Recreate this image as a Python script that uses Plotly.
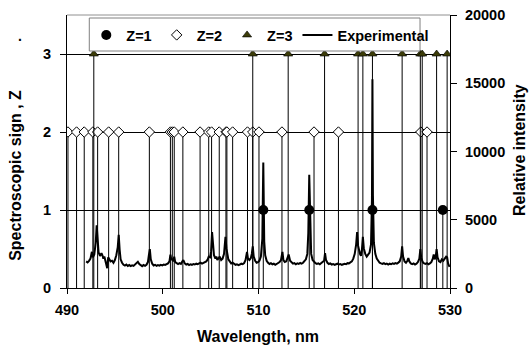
import plotly.graph_objects as go

# ---- data ----
z1_wl = [510.5, 515.3, 521.9, 529.25]
z2_wl = [490.1, 491.0, 491.8, 492.7, 493.2, 494.35, 495.4, 498.6, 500.8, 501.0,
         501.2, 502.1, 503.9, 504.8, 505.1, 505.9, 506.6, 506.7, 507.3, 508.85,
         509.4, 510.05, 512.45, 515.8, 518.35, 526.95, 527.6]
z3_wl = [492.8, 509.4, 513.1, 516.9, 520.4, 520.9, 521.9, 525.0, 526.9, 527.1,
         528.6, 529.7]

exp_wl = [492.0, 492.15, 492.3, 492.45, 492.6, 492.7, 492.85, 493.0, 493.1, 493.2,
          493.3, 493.45, 493.6, 493.7, 493.8, 493.9, 494.05, 494.2, 494.3, 494.4,
          494.55, 494.7, 494.85, 495.0, 495.15, 495.3, 495.4, 495.5, 495.6, 495.75,
          495.9, 496.05, 496.2, 496.35, 496.5, 496.65, 496.8, 496.95, 497.1, 497.25,
          497.4, 497.55, 497.7, 497.85, 498.0, 498.15, 498.3, 498.45, 498.55, 498.65,
          498.75, 498.9, 499.05, 499.2, 499.35, 499.5, 499.65, 499.8, 499.95, 500.1,
          500.25, 500.4, 500.55, 500.7, 500.8, 500.9, 501.0, 501.1, 501.2, 501.3,
          501.45, 501.6, 501.75, 501.9, 502.05, 502.15, 502.3, 502.45, 502.6, 502.75,
          502.9, 503.05, 503.2, 503.35, 503.5, 503.65, 503.8, 503.95, 504.1, 504.25,
          504.4, 504.55, 504.7, 504.8, 504.95, 505.05, 505.15, 505.25, 505.35, 505.5,
          505.6, 505.7, 505.85, 505.95, 506.1, 506.25, 506.4, 506.55, 506.65, 506.75,
          506.85, 507.0, 507.15, 507.3, 507.45, 507.6, 507.75, 507.9, 508.05, 508.2,
          508.35, 508.5, 508.65, 508.8, 508.9, 509.05, 509.2, 509.3, 509.4, 509.5,
          509.65, 509.8, 509.95, 510.1, 510.25, 510.4, 510.5, 510.6, 510.7, 510.85,
          511.0, 511.15, 511.3, 511.45, 511.6, 511.75, 511.9, 512.05, 512.2, 512.35,
          512.5, 512.6, 512.75, 512.9, 513.05, 513.15, 513.3, 513.45, 513.6, 513.75,
          513.9, 514.05, 514.2, 514.35, 514.5, 514.65, 514.8, 514.95, 515.1, 515.2,
          515.3, 515.4, 515.5, 515.65, 515.8, 515.95, 516.1, 516.25, 516.4, 516.55,
          516.7, 516.85, 516.95, 517.05, 517.2, 517.35, 517.5, 517.65, 517.8, 517.95,
          518.1, 518.25, 518.4, 518.55, 518.7, 518.85, 519.0, 519.15, 519.3, 519.45,
          519.6, 519.75, 519.9, 520.05, 520.2, 520.3, 520.4, 520.5, 520.6, 520.7,
          520.8, 520.9, 521.0, 521.15, 521.3, 521.45, 521.6, 521.75, 521.85, 521.9,
          521.95, 522.05, 522.2, 522.35, 522.5, 522.65, 522.8, 522.95, 523.1, 523.25,
          523.4, 523.55, 523.7, 523.85, 524.0, 524.15, 524.3, 524.45, 524.6, 524.75,
          524.9, 525.0, 525.1, 525.25, 525.4, 525.55, 525.65, 525.75, 525.9, 526.05,
          526.2, 526.35, 526.5, 526.65, 526.8, 526.9, 527.0, 527.15, 527.3, 527.45,
          527.6, 527.75, 527.9, 528.05, 528.2, 528.3, 528.4, 528.5, 528.6, 528.7,
          528.85, 529.0, 529.15, 529.3, 529.45, 529.6, 529.7, 529.8, 529.95]
exp_int = [1950, 1880, 1990, 2150, 2650, 2250, 2450, 3300, 4600, 3300,
           2600, 2350, 2550, 2400, 2150, 2300, 1900, 1450, 2250, 2100,
           1950, 2000, 1850, 2050, 2400, 3000, 3900, 2800, 2100, 1850,
           1700, 1650, 1720, 1620, 1680, 1600, 1660, 1620, 1700, 1780,
           1920, 1750, 1640, 1600, 1680, 1620, 1700, 1900, 2400, 2850,
           2100, 1780, 1650, 1700, 1620, 1680, 1640, 1700, 1660, 1720,
           1690, 1750, 1800, 1950, 2450, 2050, 2150, 1950, 2300, 1900,
           1800, 1750, 1820, 1760, 1950, 2050, 1800, 1720, 1760, 1680,
           1740, 1700, 1760, 1720, 1780, 1750, 1800, 1850, 1780, 1820,
           1900, 1950, 2100, 2300, 2250, 2700, 4100, 2900, 2400, 2150,
           2300, 2050, 2200, 2300, 2050, 2150, 2500, 3750, 2900, 2400,
           2100, 1950, 1800, 1850, 1760, 1700, 1740, 1680, 1720, 1780,
           1750, 1820, 2050, 2650, 2150, 2050, 2200, 2500, 3050, 2300,
           2000, 1850, 1900, 2000, 2300, 3600, 9200, 3400, 2400, 2000,
           1850, 1760, 1820, 1740, 1780, 1700, 1760, 1820, 1900, 2050,
           2650, 2050, 1900, 1950, 2300, 2450, 2000, 1850, 1780, 1820,
           1740, 1800, 1760, 1830, 1780, 1850, 1950, 2100, 2500, 4000,
           8300, 3800, 2500, 2050, 1900, 1820, 1760, 1800, 1740, 1820,
           1860, 2000, 2550, 2050, 1850, 1760, 1800, 1720, 1760, 1700,
           1740, 1780, 1720, 1760, 1700, 1740, 1780, 1750, 1820, 1800,
           1880, 1950, 2150, 2500, 3200, 4100, 3100, 2600, 2500, 2350,
           2800, 3750, 2900, 2500, 2300, 2450, 2600, 3200, 6500, 15300,
           6800, 3300, 2500, 2150, 1950, 1850, 1800, 1760, 1820, 1750,
           1790, 1720, 1780, 1740, 1800, 1760, 1820, 1780, 1860, 1950,
           2300, 3050, 2300, 1950, 1850, 2000, 2200, 1950, 1800, 1750,
           1800, 1720, 1780, 1900, 2150, 2850, 2200, 1900, 1800, 1760,
           1820, 1740, 1800, 1900, 2150, 2450, 2100, 2250, 2850, 2250,
           1950, 1900, 2100, 2000, 2150, 2300, 2250, 1800, 1550]

x_ticks = [490, 500, 510, 520, 530]
z_ticks = [0, 1, 2, 3]
int_ticks = [0, 5000, 10000, 15000, 20000]

FONT = "Liberation Sans, Arial, sans-serif"
W, H = 529, 349
# plot area in page pixels
PX0, PX1, PY0, PY1 = 66.7, 450.0, 288.0, 15.0


def px(xp):
    return (xp - PX0) / (PX1 - PX0)


def py(yp):
    return (PY0 - yp) / (PY0 - PY1)


def drops(vals, zval):
    return dict(type="data", symmetric=False, array=[0] * len(vals),
                arrayminus=[zval] * len(vals), color="black", thickness=1, width=0)


fig = go.Figure()
fig.add_trace(go.Scatter(
    x=z1_wl, y=[1] * len(z1_wl), mode="markers", name="Z=1",
    marker=dict(symbol="circle", size=10, color="black"),
    error_y=drops(z1_wl, 1)))
fig.add_trace(go.Scatter(
    x=z2_wl, y=[2] * len(z2_wl), mode="markers", name="Z=2",
    marker=dict(symbol="diamond", size=8, color="white",
                line=dict(color="black", width=1)),
    error_y=drops(z2_wl, 2)))
fig.add_trace(go.Scatter(
    x=z3_wl, y=[3] * len(z3_wl), mode="markers", name="Z=3",
    marker=dict(symbol="triangle-up", size=8, color="#3c3c08",
                line=dict(color="black", width=0.6)),
    error_y=drops(z3_wl, 3)))
fig.add_trace(go.Scatter(
    x=exp_wl, y=exp_int, mode="lines", name="Experimental", yaxis="y2",
    line=dict(color="black", width=2)))

tickfont = dict(family=FONT, size=14.5, color="black", weight="bold")
titlefont = dict(family=FONT, size=16, color="black", weight="bold")

fig.update_layout(
    width=W, height=H,
    margin=dict(l=PX0, r=W - PX1, t=PY1, b=H - PY0, pad=0, autoexpand=False),
    paper_bgcolor="white", plot_bgcolor="white",
    font=dict(family=FONT, size=14, color="black", weight="bold"),
    showlegend=True,
    legend=dict(orientation="h", x=px(86), y=py(19), xanchor="left", yanchor="top",
                bgcolor="rgba(0,0,0,0)", borderwidth=0,
                font=dict(family=FONT, size=14.5, color="black", weight="bold"),
                itemwidth=30),
    xaxis=dict(range=[490, 530], tickvals=x_ticks, ticks="outside", ticklen=5,
               tickcolor="black", showline=True, linecolor="black", linewidth=1,
               showgrid=False, zeroline=False, tickfont=tickfont,
               ticklabelstandoff=4, automargin=False, ticklabeloverflow="allow"),
    yaxis=dict(range=[0, 3.5], tickvals=z_ticks, ticks="outside", ticklen=6,
               tickcolor="black", showline=True, linecolor="black", linewidth=1,
               showgrid=True, gridcolor="black", gridwidth=1, zeroline=False,
               tickfont=tickfont, ticklabelstandoff=6, automargin=False,
               ticklabeloverflow="allow"),
    yaxis2=dict(range=[0, 20000], tickvals=int_ticks, tickformat="d",
                overlaying="y", side="right",
                ticks="outside", ticklen=6, tickcolor="black", showline=True,
                linecolor="black", linewidth=1, showgrid=False, zeroline=False,
                tickfont=tickfont, ticklabelstandoff=5, automargin=False,
                ticklabeloverflow="allow"),
    shapes=[
        dict(type="line", xref="paper", yref="paper", x0=0, x1=1, y0=1, y1=1,
             line=dict(color="#909090", width=1)),
        dict(type="rect", xref="paper", yref="paper", x0=px(89), x1=px(420),
             y0=py(51), y1=py(18), fillcolor="white", layer="above",
             line=dict(color="#808080", width=1)),
    ],
    annotations=[
        dict(text="Spectroscopic sign , Z", x=px(14.5), y=py(175), xref="paper",
             yref="paper", showarrow=False, textangle=-90, font=titlefont,
             xanchor="center", yanchor="middle"),
        dict(text="Relative intensity", x=px(519), y=py(150), xref="paper",
             yref="paper", showarrow=False, textangle=-90, font=titlefont,
             xanchor="center", yanchor="middle"),
        dict(text="Wavelength, nm", x=px(258), y=py(336), xref="paper",
             yref="paper", showarrow=False, font=titlefont,
             xanchor="center", yanchor="middle"),
        dict(text=".", x=px(20), y=py(36), xref="paper", yref="paper",
             showarrow=False, font=dict(family=FONT, size=14, color="black"),
             xanchor="center", yanchor="middle"),
    ],
)

fig.write_html(
    "out.html",
    config={"displayModeBar": False},
    post_script="document.body.style.margin='0';document.body.style.overflow='hidden';",
)
